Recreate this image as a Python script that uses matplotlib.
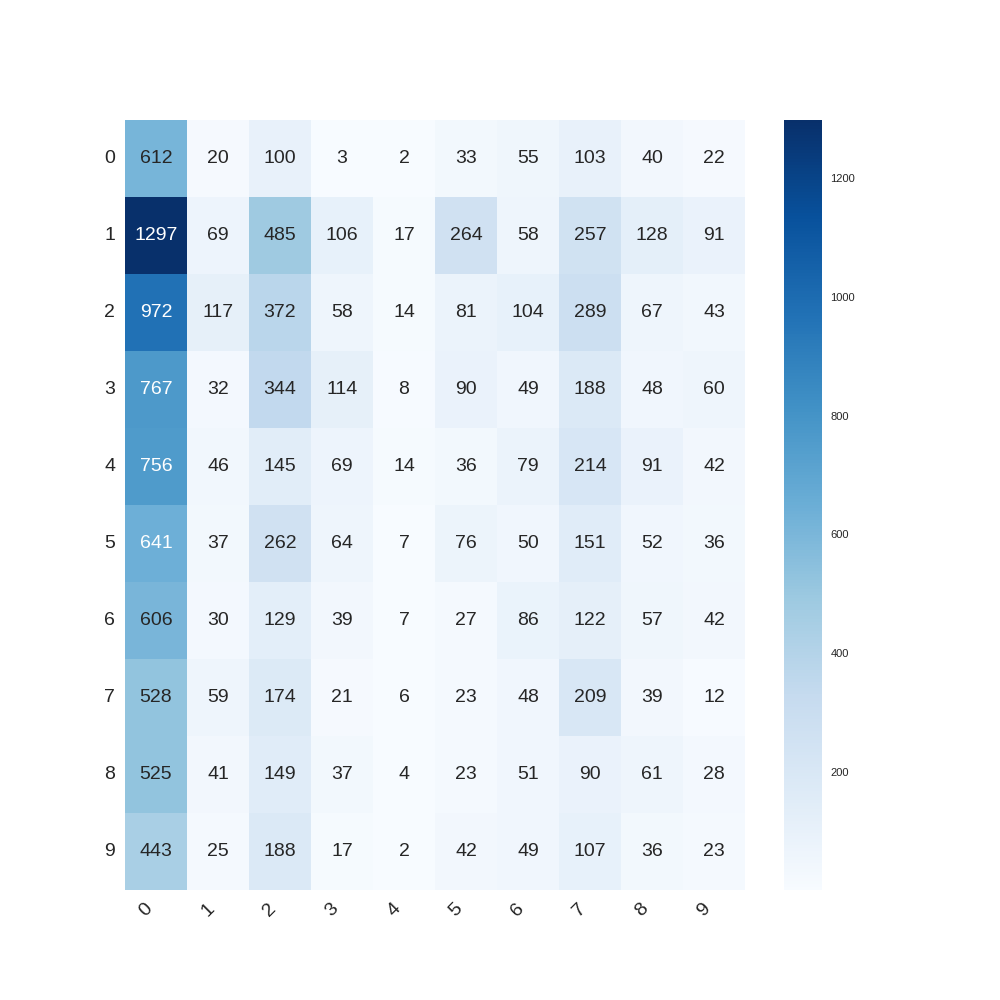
import matplotlib
matplotlib.use("Agg")
import matplotlib.pyplot as plt
import numpy as np
import seaborn as sns

labels = [str(i) for i in range(10)]
counts = [
    [612, 20, 100, 3, 2, 33, 55, 103, 40, 22],
    [1297, 69, 485, 106, 17, 264, 58, 257, 128, 91],
    [972, 117, 372, 58, 14, 81, 104, 289, 67, 43],
    [767, 32, 344, 114, 8, 90, 49, 188, 48, 60],
    [756, 46, 145, 69, 14, 36, 79, 214, 91, 42],
    [641, 37, 262, 64, 7, 76, 50, 151, 52, 36],
    [606, 30, 129, 39, 7, 27, 86, 122, 57, 42],
    [528, 59, 174, 21, 6, 23, 48, 209, 39, 12],
    [525, 41, 149, 37, 4, 23, 51, 90, 61, 28],
    [443, 25, 188, 17, 2, 42, 49, 107, 36, 23],
]

sns.set_style("white")
plt.rcParams['font.family'] = ['Liberation Sans', 'DejaVu Sans']

fig, ax = plt.subplots(figsize=(10, 10), dpi=100)
hm = sns.heatmap(np.array(counts), annot=True, fmt='d', cmap='Blues',
                 annot_kws={'size': 14}, xticklabels=labels, yticklabels=labels, ax=ax)

ax.set_xticklabels(labels, rotation=45, ha='right', fontsize=14)
ax.set_yticklabels(labels, rotation=0, fontsize=14)
ax.tick_params(length=0, pad=7)
cbar = hm.collections[0].colorbar
cbar.ax.tick_params(labelsize=8, length=0, pad=6)
cbar.outline.set_visible(False)

fig.savefig('out.png')
